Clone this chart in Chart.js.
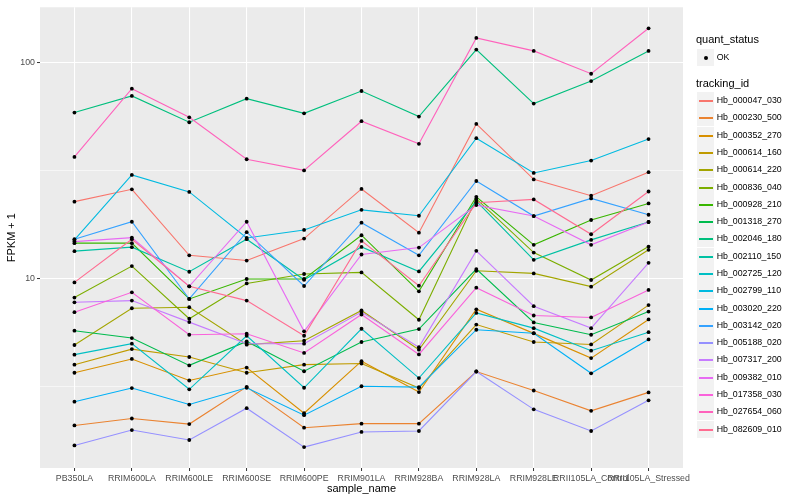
<!DOCTYPE html>
<html>
<head>
<meta charset="utf-8">
<script src="https://cdn.jsdelivr.net/npm/chart.js@4.4.1/dist/chart.umd.min.js"></script>
<style>
  html, body { margin: 0; padding: 0; background: #fff; }
  #wrap { position: relative; width: 800px; height: 500px; font-family: "Liberation Sans", Arial, Helvetica, sans-serif; }
  #chart { position: absolute; left: 0; top: 0; }
  #legend { position: absolute; left: 0; top: 0; width: 800px; height: 500px; pointer-events: none; }
  .lg-title { position: absolute; left: 696px; font-size: 11px; line-height: 13px; color: #000; white-space: nowrap; }
  .lg-key { position: absolute; left: 697px; width: 17px; height: 17px; background: #F2F2F2; }
  .lg-line { position: absolute; left: 2px; width: 14px; height: 1.5px; top: 8px; }
  .lg-dot { position: absolute; left: 6.5px; top: 6.5px; width: 4px; height: 4px; border-radius: 50%; background: #000; }
  .lg-text { position: absolute; left: 716.7px; font-size: 8.8px; line-height: 17px; height: 17px; color: #000; white-space: nowrap; }
</style>
</head>
<body>
<div id="wrap">
  <canvas id="chart" width="800" height="500"></canvas>
  <div id="legend"></div>
</div>
<script>
// FPKM + 1 per transcript across samples

const sampleNames = ['PB350LA', 'RRIM600LA', 'RRIM600LE', 'RRIM600SE', 'RRIM600PE', 'RRIM901LA',
  'RRIM928BA', 'RRIM928LA', 'RRIM928LE', 'RRII105LA_Control', 'RRII105LA_Stressed'];

const trackingIds = ['Hb_000047_030', 'Hb_000230_500', 'Hb_000352_270', 'Hb_000614_160', 'Hb_000614_220',
  'Hb_000836_040', 'Hb_000928_210', 'Hb_001318_270', 'Hb_002046_180', 'Hb_002110_150',
  'Hb_002725_120', 'Hb_002799_110', 'Hb_003020_220', 'Hb_003142_020', 'Hb_005188_020',
  'Hb_007317_200', 'Hb_009382_010', 'Hb_017358_030', 'Hb_027654_060', 'Hb_082609_010'];

const hb000047_030 = [22.7, 25.9, 12.8, 12.1, 15.3, 26.0, 16.3, 52.1, 28.8, 24.2, 31.1];
const hb000230_500 = [2.08, 2.24, 2.11, 3.14, 2.03, 2.12, 2.12, 3.70, 3.02, 2.43, 2.96];
const hb000352_270 = [3.65, 4.23, 3.36, 3.86, 2.37, 4.13, 2.97, 7.19, 5.56, 4.27, 6.45];
const hb000614_160 = [3.98, 4.70, 4.32, 3.65, 3.98, 4.03, 3.10, 6.11, 5.07, 4.94, 7.52];
const hb000614_220 = [4.91, 7.27, 7.35, 4.93, 5.14, 7.10, 4.67, 10.85, 10.55, 9.16, 13.57];
const hb000836_040 = [8.15, 11.41, 6.50, 9.48, 10.48, 10.66, 6.43, 23.4, 13.18, 9.83, 14.05];
const hb000928_210 = [14.57, 14.57, 8.03, 9.94, 9.94, 15.86, 8.71, 23.9, 14.31, 18.66, 22.28];
const hb001318_270 = [5.72, 5.29, 3.95, 5.10, 3.71, 5.07, 5.82, 11.05, 6.25, 5.48, 7.02];
const hb002046_180 = [58.8, 70.2, 53.0, 68.2, 58.3, 74.0, 56.3, 115.2, 64.7, 82.3, 113.6];
const hb002110_150 = [13.38, 13.96, 10.74, 15.20, 9.86, 14.0, 10.77, 22.84, 12.20, 15.09, 18.27];
const hb002725_120 = [4.43, 4.98, 3.06, 5.42, 3.11, 5.84, 3.45, 6.92, 5.88, 4.62, 5.63];
const hb002799_110 = [15.09, 30.2, 25.2, 15.41, 16.78, 20.8, 19.53, 44.7, 30.85, 35.2, 44.3];
const hb003020_220 = [2.68, 3.10, 2.60, 3.11, 2.32, 3.16, 3.13, 5.78, 5.57, 3.63, 5.21];
const hb003142_020 = [15.20, 18.32, 8.03, 16.38, 9.22, 18.13, 12.80, 28.3, 19.47, 23.5, 19.74];
const hb005188_020 = [1.68, 1.98, 1.78, 2.50, 1.65, 1.94, 1.96, 3.70, 2.47, 1.96, 2.72];
const hb007317_200 = [7.75, 7.89, 6.27, 4.98, 4.98, 6.98, 4.80, 13.42, 7.43, 5.88, 11.81];
const hb009382_010 = [14.82, 15.46, 9.19, 18.32, 5.68, 12.91, 13.90, 21.88, 19.47, 14.31, 18.27];
const hb017358_030 = [6.97, 8.62, 5.48, 5.54, 4.51, 6.80, 4.44, 9.06, 6.73, 6.59, 8.84];
const hb027654_060 = [36.6, 75.9, 55.9, 35.7, 31.7, 53.6, 42.1, 130.5, 113.6, 89.0, 144.6];
const hb082609_010 = [9.58, 15.20, 9.19, 7.89, 5.42, 14.93, 9.25, 22.42, 23.25, 16.03, 25.3];

const seriesValues = [hb000047_030, hb000230_500, hb000352_270, hb000614_160, hb000614_220,
  hb000836_040, hb000928_210, hb001318_270, hb002046_180, hb002110_150,
  hb002725_120, hb002799_110, hb003020_220, hb003142_020, hb005188_020,
  hb007317_200, hb009382_010, hb017358_030, hb027654_060, hb082609_010];

const quantStatus = ['OK'];

// log axis: labelled breaks, minor breaks and range
const yBreaks = [10, 100];
const yMinorBreaks = [3.16, 31.6];
const yMin = 1.32;
const yMax = 181;

// ggplot default hue palette, 20 levels
const hueColors = ['#F8766D', '#EA8331', '#D89000', '#C09B00', '#A3A500', '#7CAE00', '#39B600',
  '#00BB4E', '#00BF7D', '#00C1A3', '#00BFC4', '#00BAE0', '#00B0F6', '#35A2FF', '#9590FF',
  '#C77CFF', '#E76BF3', '#FA62DB', '#FF62BC', '#FF6C91'];

const FONT = '"Liberation Sans", Arial, Helvetica, sans-serif';

// grey panel behind grid
const panelBg = {
  id: 'panelBg',
  beforeDraw(chart) {
    const { ctx, chartArea: a } = chart;
    ctx.save();
    ctx.fillStyle = '#EBEBEB';
    ctx.fillRect(a.left, a.top, a.right - a.left, a.bottom - a.top);
    ctx.restore();
  }
};

const lineSets = trackingIds.map((id, i) => ({
  type: 'line',
  label: id,
  data: seriesValues[i].map((v, j) => ({ x: j + 1, y: v })),
  borderColor: hueColors[i],
  borderWidth: 1.1,
  pointRadius: 0,
  fill: false,
  tension: 0,
  order: -i
}));

const pointSet = {
  type: 'scatter',
  label: quantStatus[0],
  data: seriesValues.flatMap(vals => vals.map((v, j) => ({ x: j + 1, y: v }))),
  backgroundColor: '#000',
  borderColor: '#000',
  borderWidth: 0,
  pointRadius: 1.9,
  showLine: false,
  order: -1000
};

const isMajor = v => yBreaks.includes(v);

new Chart(document.getElementById('chart').getContext('2d'), {
  type: 'line',
  data: { datasets: [...lineSets, pointSet] },
  plugins: [panelBg],
  options: {
    responsive: false,
    animation: false,
    events: [],
    layout: { padding: { top: 5, right: 117, left: 0, bottom: 0 } },
    plugins: { legend: { display: false }, tooltip: { enabled: false } },
    scales: {
      x: {
        type: 'linear',
        min: 0.4,
        max: 11.6,
        afterBuildTicks: s => { s.ticks = sampleNames.map((n, i) => ({ value: i + 1 })); },
        afterFit: s => { s.height = 32; },
        ticks: {
          autoSkip: false, maxRotation: 0, minRotation: 0, padding: 2,
          color: '#4D4D4D', font: { family: FONT, size: 8.8 },
          callback: (v, i) => sampleNames[i]
        },
        grid: { color: '#FFFFFF', lineWidth: 1.07, tickColor: '#333333', tickLength: 3, tickWidth: 1 },
        border: { display: false },
        title: { display: true, text: 'sample_name', color: '#000', font: { family: FONT, size: 11 }, padding: { top: 0, bottom: 4 } }
      },
      y: {
        type: 'logarithmic',
        min: yMin,
        max: yMax,
        afterBuildTicks: s => {
          s.ticks = [...yMinorBreaks, ...yBreaks].sort((a, b) => a - b).map(v => ({ value: v }));
        },
        afterFit: s => { s.width = 40; },
        ticks: {
          padding: 2, color: '#4D4D4D', font: { family: FONT, size: 8.8 },
          callback: v => isMajor(v) ? String(v) : ''
        },
        grid: {
          color: '#FFFFFF',
          lineWidth: c => isMajor(c.tick.value) ? 1.07 : 0.55,
          tickColor: c => isMajor(c.tick.value) ? '#333333' : 'rgba(0,0,0,0)',
          tickLength: 3, tickWidth: 1
        },
        border: { display: false },
        title: { display: true, text: 'FPKM + 1', color: '#000', font: { family: FONT, size: 11 }, padding: { top: 5.6, bottom: 0 } }
      }
    }
  }
});

// legend (two guides, like ggplot)
const legend = document.getElementById('legend');
function el(cls, css, parent) {
  const d = document.createElement('div');
  d.className = cls;
  Object.assign(d.style, css || {});
  (parent || legend).appendChild(d);
  return d;
}

el('lg-title', { top: '33px' }).textContent = 'quant_status';
const okKey = el('lg-key', { top: '49px' });
el('lg-dot', {}, okKey);
el('lg-text', { top: '49px' }).textContent = quantStatus[0];

el('lg-title', { top: '77px' }).textContent = 'tracking_id';
trackingIds.forEach((id, i) => {
  const top = Math.round(100.7 + i * 17.28 - 8.5);
  const key = el('lg-key', { top: top + 'px' });
  el('lg-line', { background: hueColors[i] }, key);
  el('lg-text', { top: top + 'px' }).textContent = id;
});
</script>
</body>
</html>
